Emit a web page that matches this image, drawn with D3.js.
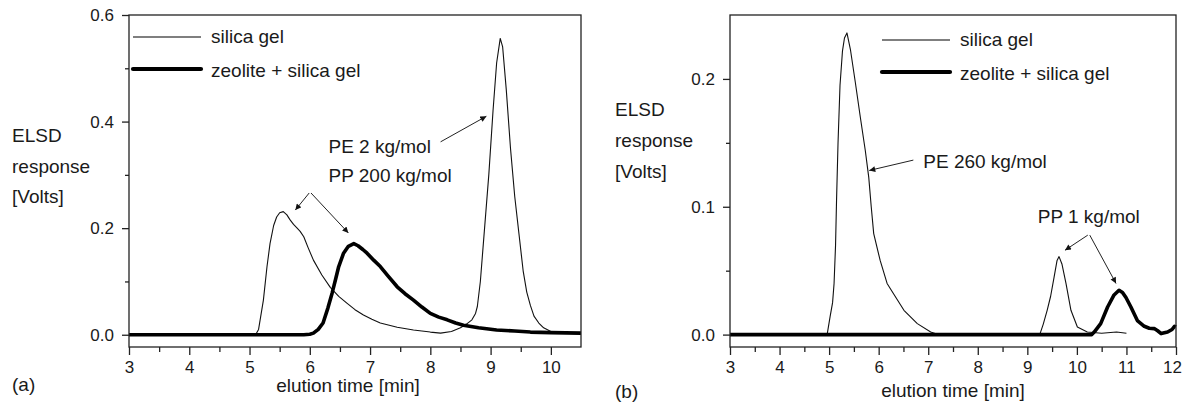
<!DOCTYPE html>
<html>
<head>
<meta charset="utf-8">
<script src="https://cdn.jsdelivr.net/npm/d3@7/dist/d3.min.js"></script>
<style>
  body { margin: 0; background: #fff; }
  text { font-family: "Liberation Sans", Arial, Helvetica, sans-serif; fill: #1a1a1a; }
</style>
</head>
<body>
<svg width="1184" height="405"></svg>
<script>
// ---- panel (a) data : elution time [min] / ELSD response [V]
const aSilicaX = [3.0, 5.10, 5.15, 5.23, 5.29, 5.34, 5.40, 5.45, 5.50, 5.56, 5.62, 5.67, 5.73, 5.79, 5.84, 5.90, 5.97,
  6.06, 6.20, 6.34, 6.48, 6.62, 6.75, 6.89, 7.03, 7.17, 7.45, 7.72, 8.00, 8.17, 8.35, 8.50, 8.60, 8.69, 8.75, 8.78,
  8.83, 8.90, 8.97, 9.04, 9.10, 9.16, 9.20, 9.26, 9.33, 9.40, 9.47, 9.54, 9.60, 9.66, 9.72, 9.80, 9.88, 10.0, 10.1, 10.5];
const aSilicaY = [0, 0, 0.010, 0.065, 0.128, 0.171, 0.205, 0.221, 0.229, 0.231, 0.225, 0.216, 0.207, 0.200, 0.194, 0.184, 0.164,
  0.140, 0.112, 0.089, 0.072, 0.059, 0.047, 0.037, 0.029, 0.022, 0.014, 0.009, 0.005, 0.003, 0.006, 0.013, 0.020, 0.028, 0.040, 0.053,
  0.100, 0.200, 0.300, 0.420, 0.510, 0.556, 0.540, 0.460, 0.350, 0.260, 0.190, 0.120, 0.080, 0.055, 0.035, 0.022, 0.013, 0.006, 0.003, 0.002];
const aZeoliteX = [3.0, 5.90, 6.00, 6.06, 6.14, 6.22, 6.30, 6.37, 6.43, 6.48, 6.56, 6.64, 6.73, 6.80, 6.88, 6.95, 7.06, 7.17,
  7.30, 7.45, 7.58, 7.72, 7.86, 8.00, 8.14, 8.28, 8.42, 8.55, 8.80, 9.10, 9.40, 9.66, 10.0, 10.5];
const aZeoliteY = [0, 0, 0.001, 0.003, 0.010, 0.022, 0.050, 0.078, 0.105, 0.128, 0.153, 0.166, 0.171, 0.167, 0.160, 0.153, 0.140, 0.128,
  0.110, 0.090, 0.077, 0.065, 0.052, 0.040, 0.033, 0.028, 0.022, 0.018, 0.013, 0.009, 0.007, 0.005, 0.004, 0.003];

// ---- panel (b) data
const bSilicaX = [3.0, 4.96, 5.02, 5.07, 5.10, 5.13, 5.15, 5.18, 5.22, 5.27, 5.31, 5.36, 5.43, 5.53, 5.63, 5.73, 5.80, 5.85,
  5.90, 6.03, 6.17, 6.30, 6.51, 6.78, 7.05, 7.20, 9.25, 9.32, 9.40, 9.47, 9.54, 9.60, 9.64, 9.70, 9.78, 9.88, 10.01, 10.21,
  10.5, 10.8, 11.0];
const bSilicaY = [0, 0, 0.014, 0.025, 0.040, 0.070, 0.105, 0.150, 0.195, 0.222, 0.232, 0.236, 0.223, 0.197, 0.170, 0.144, 0.123, 0.100,
  0.079, 0.058, 0.040, 0.032, 0.019, 0.0086, 0.002, 0, 0, 0.008, 0.019, 0.030, 0.045, 0.058, 0.061, 0.055, 0.040, 0.019, 0.006, 0.002,
  0.001, 0.002, 0.001];
const bZeoliteX = [3.0, 10.30, 10.35, 10.48, 10.62, 10.75, 10.85, 10.92, 10.99, 11.09, 11.22, 11.36, 11.46, 11.56, 11.63,
  11.70, 11.83, 11.92, 11.97, 12.0];
const bZeoliteY = [0, 0, 0.002, 0.0086, 0.0216, 0.031, 0.0347, 0.033, 0.029, 0.0216, 0.011, 0.0065, 0.005, 0.0047, 0.003,
  0.0008, 0.002, 0.004, 0.0065, 0.006];

// ticks
const aXTicks = [3, 4, 5, 6, 7, 8, 9, 10];
const aYTicks = [0.0, 0.2, 0.4, 0.6];
const aYMinor = [0.1, 0.3, 0.5];
const bXTicks = [3, 4, 5, 6, 7, 8, 9, 10, 11, 12];
const bYTicks = [0.0, 0.1, 0.2];
const bYMinor = [0.05, 0.15];

const legendNames = ['silica gel', 'zeolite + silica gel'];

const svg = d3.select('svg');

// arrow head marker
svg.append('defs').append('marker')
  .attr('id', 'head')
  .attr('viewBox', '0 0 10 10')
  .attr('refX', 10).attr('refY', 5)
  .attr('markerUnits', 'userSpaceOnUse')
  .attr('markerWidth', 7).attr('markerHeight', 6)
  .attr('orient', 'auto')
  .append('path').attr('d', 'M0,0L10,5L0,10z').attr('fill', '#111');

function panel(o) {
  const x = d3.scaleLinear().domain(o.xDomain).range([o.left, o.right]);
  const y = d3.scaleLinear().domain(o.yDomain).range([o.bottom, o.top]);
  const g = svg.append('g');

  const line = d3.line().x(d => x(d[0])).y(d => y(d[1]));
  g.append('path').datum(d3.zip(o.thinX, o.thinY))
    .attr('d', line).attr('fill', 'none')
    .attr('stroke', '#111').attr('stroke-width', 1.1).attr('stroke-linejoin', 'round');
  g.append('path').datum(d3.zip(o.thickX, o.thickY))
    .attr('d', line).attr('fill', 'none')
    .attr('stroke', '#000').attr('stroke-width', 3.6).attr('stroke-linejoin', 'round');

  // frame
  g.append('rect')
    .attr('x', o.left).attr('y', o.top)
    .attr('width', o.right - o.left).attr('height', o.bottom - o.top)
    .attr('fill', 'none').attr('stroke', '#222').attr('stroke-width', 1.3);

  // axes
  const xMinor = d3.range(o.xDomain[0] + 0.5, o.xDomain[1], 1);
  const gx = g.append('g').attr('transform', `translate(0,${o.bottom})`)
    .call(d3.axisBottom(x).tickValues(o.xTicks).tickSize(8).tickSizeOuter(0).tickPadding(6).tickFormat(d3.format('d')));
  g.append('g').attr('transform', `translate(0,${o.bottom})`)
    .call(d3.axisBottom(x).tickValues(xMinor).tickSize(5).tickSizeOuter(0).tickFormat(''));
  g.append('g').attr('transform', `translate(${o.left},0)`)
    .call(d3.axisLeft(y).tickValues(o.yTicks).tickSize(7).tickSizeOuter(0).tickPadding(8).tickFormat(d3.format('.1f')));
  g.append('g').attr('transform', `translate(${o.left},0)`)
    .call(d3.axisLeft(y).tickValues(o.yMinor).tickSize(4).tickSizeOuter(0).tickFormat(''));
  g.selectAll('.domain').remove();
  g.selectAll('.tick line').attr('stroke', '#222').attr('stroke-width', 1.3);
  g.selectAll('.tick text').style('font-size', '17px').attr('fill', '#1a1a1a');
  // last x label sits against the page edge, pull it in a little
  gx.selectAll('.tick text').filter(d => d === o.xDomain[1] && x(d) > 1170).attr('dx', -4);

  // y label
  o.yLabel.forEach((t, i) => {
    g.append('text').attr('x', o.yLabelX).attr('y', o.yLabelY + i * o.yLabelStep)
      .style('font-size', '19px').text(t);
  });
  g.append('text').attr('x', o.xTitleX).attr('y', o.xTitleY)
    .attr('text-anchor', 'middle').style('font-size', '19px').text('elution time [min]');
  g.append('text').attr('x', o.tagX).attr('y', o.tagY)
    .style('font-size', '19px').text(o.tag);

  // legend
  legendNames.forEach((name, i) => {
    const ly = o.top + o.legendY + i * 32;
    g.append('line')
      .attr('x1', o.left + o.legendX).attr('x2', o.left + o.legendX + 68)
      .attr('y1', ly).attr('y2', ly)
      .attr('stroke', '#000').attr('stroke-width', i ? 4.2 : 1.1)
      .attr('stroke-linecap', i ? 'round' : 'butt');
    g.append('text').attr('x', o.left + o.legendX + 78).attr('y', ly + 6 + i * 2)
      .style('font-size', '19px').text(name);
  });

  // annotations
  o.notes.forEach(n => {
    g.append('text').attr('x', x(n.x)).attr('y', y(n.y))
      .style('font-size', '19px').text(n.text);
  });
  o.arrows.forEach(a => {
    g.append('line')
      .attr('x1', x(a.from[0])).attr('y1', y(a.from[1]))
      .attr('x2', x(a.to[0])).attr('y2', y(a.to[1]))
      .attr('stroke', '#222').attr('stroke-width', 1)
      .attr('marker-end', 'url(#head)');
  });
}

panel({
  left: 129, right: 581, top: 15, bottom: 347,
  xDomain: [3, 10.5], yDomain: [-0.023, 0.6],
  xTicks: aXTicks, yTicks: aYTicks, yMinor: aYMinor,
  thinX: aSilicaX, thinY: aSilicaY, thickX: aZeoliteX, thickY: aZeoliteY,
  yLabel: ['ELSD', 'response', '[Volts]'], yLabelX: 12, yLabelY: 142, yLabelStep: 30.5,
  xTitleX: 348, xTitleY: 392, tag: '(a)', tagX: 12, tagY: 391,
  legendX: 4, legendY: 22,
  notes: [
    { text: 'PE 2 kg/mol', x: 6.31, y: 0.341 },
    { text: 'PP 200 kg/mol', x: 6.31, y: 0.286 }
  ],
  arrows: [
    { from: [8.17, 0.362], to: [8.93, 0.410] },
    { from: [5.99, 0.266], to: [5.76, 0.234] },
    { from: [6.02, 0.266], to: [6.64, 0.191] }
  ]
});

panel({
  left: 730, right: 1176, top: 15, bottom: 347,
  xDomain: [3, 12], yDomain: [-0.0097, 0.25],
  xTicks: bXTicks, yTicks: bYTicks, yMinor: bYMinor,
  thinX: bSilicaX, thinY: bSilicaY, thickX: bZeoliteX, thickY: bZeoliteY,
  yLabel: ['ELSD', 'response', '[Volts]'], yLabelX: 615, yLabelY: 116, yLabelStep: 31,
  xTitleX: 953, xTitleY: 397, tag: '(b)', tagX: 615, tagY: 398,
  legendX: 152, legendY: 25,
  notes: [
    { text: 'PE 260 kg/mol', x: 6.90, y: 0.130 },
    { text: 'PP 1 kg/mol', x: 9.21, y: 0.087 }
  ],
  arrows: [
    { from: [6.70, 0.1365], to: [5.81, 0.1284] },
    { from: [10.22, 0.0778], to: [9.76, 0.066] },
    { from: [10.26, 0.0778], to: [10.79, 0.040] }
  ]
});
</script>
</body>
</html>
